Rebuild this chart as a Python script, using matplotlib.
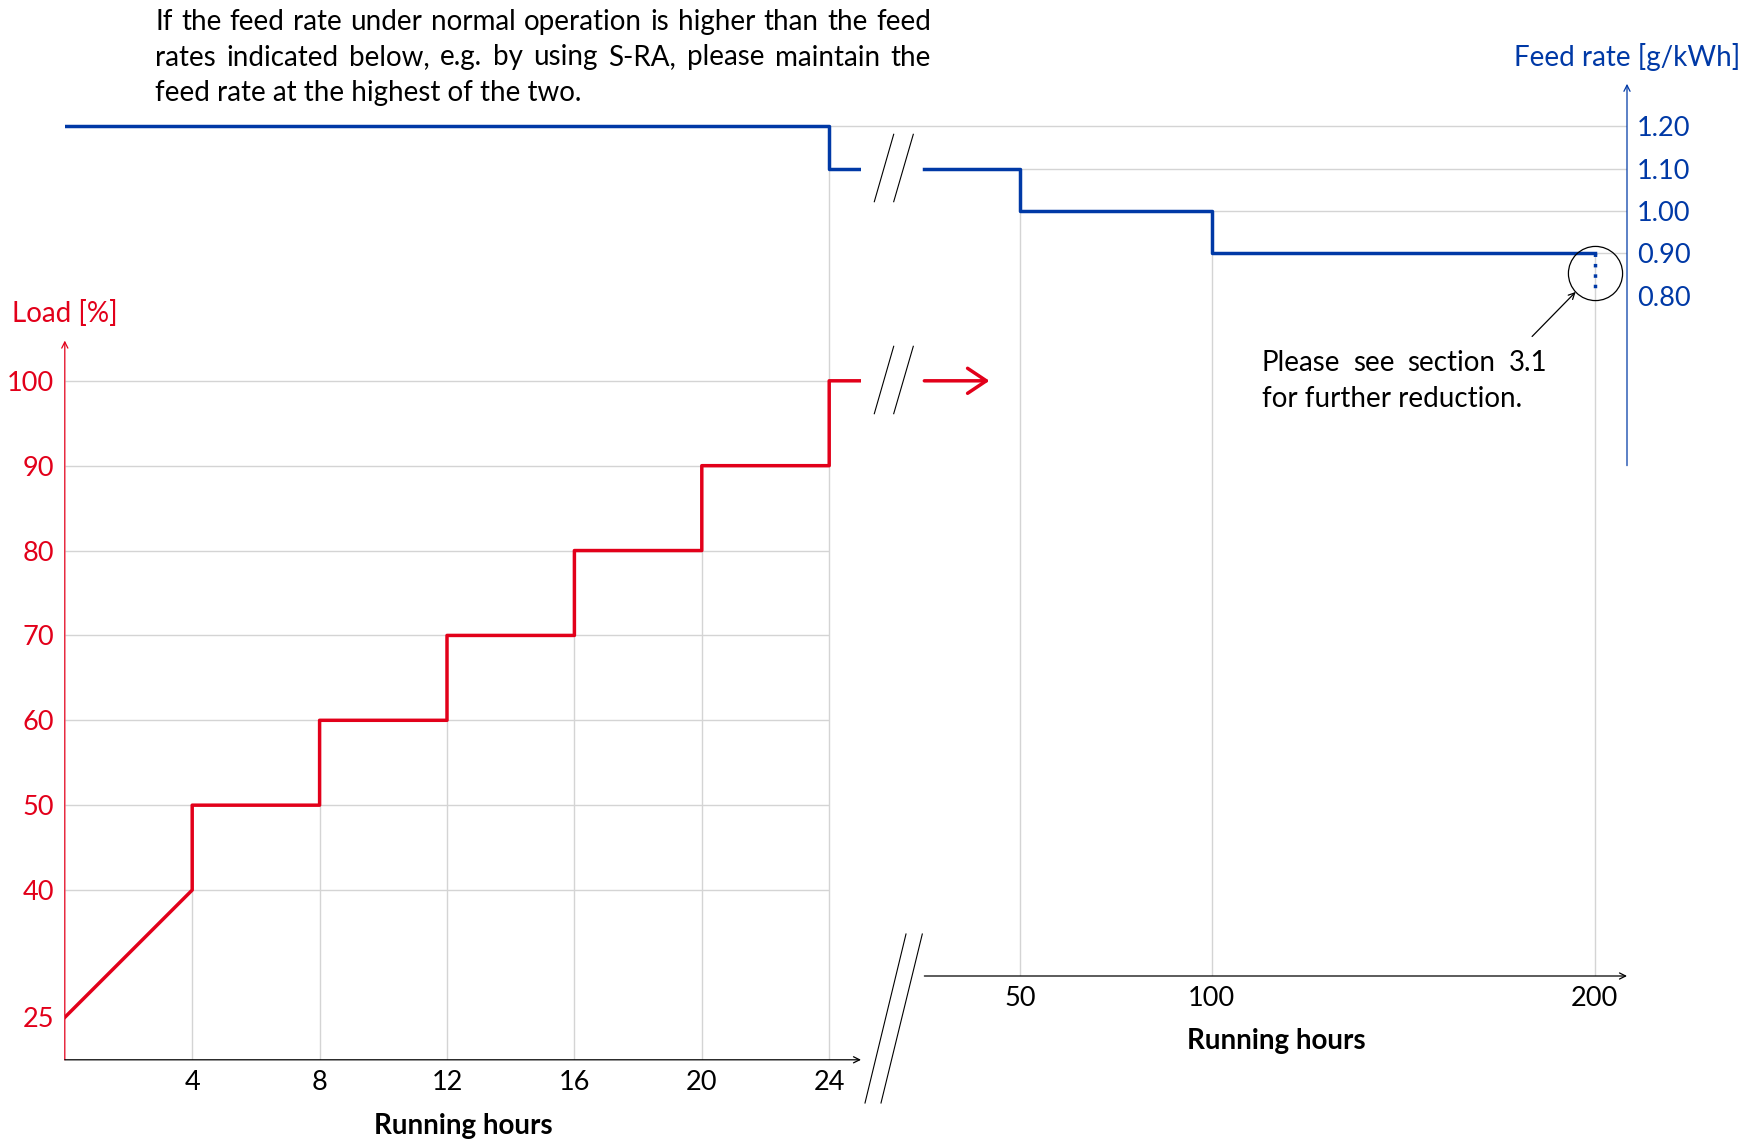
import matplotlib
matplotlib.use("Agg")
import matplotlib.pyplot as plt
from matplotlib.lines import Line2D
from matplotlib.transforms import IdentityTransform, blended_transform_factory

plt.rcParams["font.family"] = ["Lato", "DejaVu Sans"]

RED = "#e2001a"
BLUE = "#0039a6"
GRID = "#d4d4d4"
FS = 20
TFS = 19.5

# ---- data ----
load_hours = [0, 4, 4, 8, 8, 12, 12, 16, 16, 20, 20, 24, 24, 25]
load_pct = [25, 40, 50, 50, 60, 60, 70, 70, 80, 80, 90, 90, 100, 100]
feed_hours_first = [0, 24, 24, 25]
feed_rate_first = [1.2, 1.2, 1.1, 1.1]
feed_hours_later = [25, 50, 50, 100, 100, 200]
feed_rate_later = [1.1, 1.1, 1.0, 1.0, 0.9, 0.9]
reduction_hours = [200, 200]
reduction_rate = [0.9, 0.81]

hour_ticks_first = [4, 8, 12, 16, 20, 24]
hour_ticks_later = [50, 100, 200]
load_ticks = [25, 40, 50, 60, 70, 80, 90, 100]
load_grid = [40, 50, 60, 70, 80, 90, 100]
feed_ticks = [0.8, 0.9, 1.0, 1.1, 1.2]
feed_grid = [1.2, 1.1, 1.0, 0.9]

top_note = ["If the feed rate under normal operation is higher than the feed",
            "rates indicated below, e.g. by using S-RA, please maintain the",
            "feed rate at the highest of the two."]
side_note = ["Please see section 3.1", "for further reduction."]

# ---- layout (pixels) ----
W, H = 1751, 1144
X0 = 64.8            # hour 0, left part
PX_H1 = 31.85        # px per hour, left part
X0R, PX_H2 = 828.6, 3.83   # right part scale
Y100, PX_L = 380.8, 8.487  # load
Y12, PX_F = 126.2, 424.3   # feed rate
TOP, BOT_L, BOT_R, RIGHT = 83.8, 1059.8, 976.0, 1627.0


def box(x0, x1, ytop, ybot):
    return [x0 / W, 1 - ybot / H, (x1 - x0) / W, (ybot - ytop) / H]


def feed_at(py):
    return 1.2 - (py - Y12) / PX_F


fig = plt.figure(figsize=(W / 100, H / 100), dpi=100)
x_end_left = (861 - X0) / PX_H1
axC = fig.add_axes(box(X0, RIGHT, TOP, BOT_R))
axB = fig.add_axes(box(X0, 861, TOP, BOT_L))
axA = fig.add_axes(box(X0, 861, 340.6, BOT_L))
for z, ax in enumerate([axC, axB, axA]):
    ax.set_zorder(z + 1)
    ax.patch.set_visible(False)
    for s in ax.spines.values():
        s.set_visible(False)

load_top = 100 + (Y100 - 340.6) / PX_L
axA.set_xlim(0, x_end_left)
axA.set_ylim(20, load_top)
axB.set_xlim(0, x_end_left)
axB.set_ylim(feed_at(BOT_L), feed_at(TOP))
axB.axis("off")
hr_lo, hr_hi = (X0 - X0R) / PX_H2, (RIGHT - X0R) / PX_H2
axC.set_xlim(hr_lo, hr_hi)
fb, ft = feed_at(BOT_R), feed_at(TOP)
axC.set_ylim(fb, ft)

# ticks
axA.set_xticks(hour_ticks_first)
axA.set_yticks(load_ticks)
axA.tick_params(axis="x", length=0, pad=7, labelsize=TFS)
axA.tick_params(axis="y", length=0, pad=7.5, labelsize=TFS, labelcolor=RED)
axC.set_xticks(hour_ticks_later)
axC.yaxis.tick_right()
axC.set_yticks(feed_ticks)
axC.set_yticklabels([f"{v:.2f}" for v in feed_ticks])
axC.tick_params(axis="x", length=0, pad=7, labelsize=TFS)
axC.tick_params(axis="y", length=0, pad=7, labelsize=TFS, labelcolor=BLUE)

# grid
axA.hlines(load_grid, 0, 24, color=GRID, lw=1, zorder=0)
low_at = [min(v for h, v in zip(load_hours, load_pct) if h == t) for t in hour_ticks_first[:-1]]
axA.vlines(hour_ticks_first[:-1], 20, low_at, color=GRID, lw=1, zorder=0)
axB.vlines(24, feed_at(BOT_L), max(feed_rate_first), color=GRID, lw=1, zorder=0)
starts = [hr_lo] + [next(h for h, v in zip(feed_hours_later, feed_rate_later) if v == g) for g in feed_grid[1:]]
for g, s in zip(feed_grid, starts):
    axC.hlines(g, s, hr_hi, color=GRID, lw=1, zorder=0)
high_at = [max(v for h, v in zip(feed_hours_later, feed_rate_later) if h == t) for t in hour_ticks_later]
axC.vlines(hour_ticks_later, fb, high_at, color=GRID, lw=1, zorder=0)

# data lines
LW = 2.5
axA.plot(load_hours, load_pct, color=RED, lw=LW, zorder=3)
axB.plot(feed_hours_first, feed_rate_first, color=BLUE, lw=LW, zorder=3)
axC.plot(feed_hours_later, feed_rate_later, color=BLUE, lw=LW, zorder=3)
axC.plot(reduction_hours, reduction_rate, color=BLUE, lw=LW, ls=(0, (1, 2)), zorder=3)

# continuation arrow for load
tr = blended_transform_factory(axC.transData, axA.transData)
axC.annotate("", xy=(42, 100), xytext=(25, 100), xycoords=tr, textcoords=tr,
             arrowprops=dict(arrowstyle="->,head_length=0.45,head_width=0.3", color=RED, lw=LW,
                             shrinkA=0, shrinkB=0, mutation_scale=30), annotation_clip=False)

# axis lines
ap = dict(arrowstyle="->", lw=0.9, shrinkA=0, shrinkB=0, mutation_scale=11)
axA.annotate("", xy=(0, load_top), xytext=(0, 20), arrowprops=dict(ap, color=RED), annotation_clip=False)
axA.annotate("", xy=(x_end_left, 20), xytext=(0, 20), arrowprops=dict(ap, color="black"), annotation_clip=False)
axC.annotate("", xy=(hr_hi, fb), xytext=(25, fb), arrowprops=dict(ap, color="black"), annotation_clip=False)
axC.annotate("", xy=(hr_hi, ft), xytext=(hr_hi, 0.4), arrowprops=dict(ap, color=BLUE), annotation_clip=False)

# circle + pointer
mid = sum(reduction_rate) / 2
axC.plot(reduction_hours[0], mid, marker="o", ms=39, mfc="none", mec="black", mew=0.9,
         zorder=4, clip_on=False)
axC.annotate("", xy=(reduction_hours[0], mid), xytext=(-45, -46), textcoords="offset points",
             arrowprops=dict(arrowstyle="->", lw=0.9, color="black", shrinkA=0, shrinkB=19.5,
                             mutation_scale=11))

# break marks (pixels)
def brk(pairs):
    for (xa, ya), (xb, yb) in pairs:
        fig.add_artist(Line2D([xa / W, xb / W], [1 - ya / H, 1 - yb / H],
                              transform=fig.transFigure, color="black", lw=0.8))


for yc in (168, 380):
    brk([((874.3, yc + 33.7), (893.7, yc - 33.7)), ((893.7, yc + 33.7), (913.3, yc - 33.7))])
brk([((865, 1103), (906, 934)), ((881, 1103), (922.3, 934))])


def px_text(x, y, s, **kw):
    return fig.text(x / W, 1 - y / H, s, fontsize=FS, **kw)


px_text(X0, 322, "Load [%]", ha="center", color=RED)
px_text(RIGHT, 66, "Feed rate [g/kWh]", ha="center", color=BLUE)
px_text((X0 + 861) / 2, 1134, "Running hours", ha="center", fontweight="bold")
px_text((925 + RIGHT) / 2, 1049, "Running hours", ha="center", fontweight="bold")

renderer = fig.canvas.get_renderer()


def justified(line, x0, x1, y):
    words = line.split()
    arts = [fig.text(0, 0, w, fontsize=FS, transform=IdentityTransform(), va="baseline")
            for w in words]
    widths = [a.get_window_extent(renderer).width for a in arts]
    gap = (x1 - x0 - sum(widths)) / (len(words) - 1)
    x = x0
    for a, w in zip(arts, widths):
        a.set_position((x, H - y))
        x += w + gap


justified(top_note[0], 155, 931, 30)
justified(top_note[1], 155, 931, 65.5)
fig.text(155, H - 101, top_note[2], fontsize=FS, transform=IdentityTransform(), va="baseline")
justified(side_note[0], 1262, 1547, 371)
fig.text(1262, H - 407, side_note[1], fontsize=FS, transform=IdentityTransform(), va="baseline")

fig.savefig("out.png", dpi=100)
